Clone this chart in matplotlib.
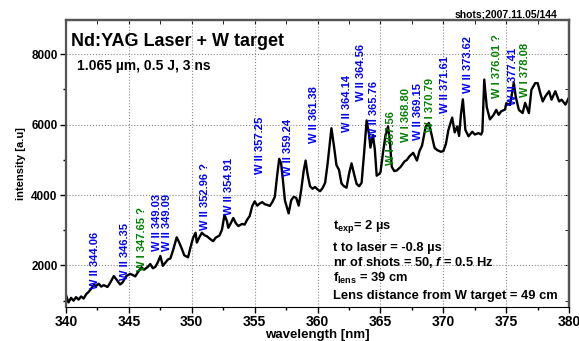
import matplotlib
matplotlib.use("Agg")
from matplotlib import pyplot as plt
from matplotlib.ticker import MultipleLocator

plt.rcParams['font.family'] = ['Liberation Sans', 'DejaVu Sans']
plt.rcParams['font.weight'] = 'bold'
plt.rcParams['mathtext.fontset'] = 'custom'
plt.rcParams['mathtext.rm'] = 'Liberation Sans:bold'
plt.rcParams['mathtext.it'] = 'Liberation Sans:bold:italic'
plt.rcParams['mathtext.default'] = 'rm'

# spectrum
wavelength = [340.0, 340.2, 340.4, 340.6, 340.8, 341.0, 341.2, 341.4, 341.6, 341.8,
              342.0, 342.2, 342.4, 342.6, 342.8, 343.0, 343.3, 343.5, 343.8, 344.1,
              344.3, 344.5, 344.8, 345.1, 345.3, 345.5, 345.7, 346.0, 346.2, 346.5,
              346.7, 346.9, 347.1, 347.3, 347.5, 347.7, 347.9, 348.1, 348.3, 348.5,
              348.8, 349.0, 349.2, 349.4, 349.7, 349.9, 350.1, 350.3, 350.4, 350.6,
              350.8, 351.0, 351.2, 351.5, 351.7, 351.9, 352.2, 352.4, 352.6, 352.8,
              352.9, 353.1, 353.3, 353.5, 353.7, 354.0, 354.2, 354.4, 354.6, 354.8,
              355.0, 355.2, 355.4, 355.6, 355.8, 356.0, 356.2, 356.4, 356.6, 356.8,
              356.95, 357.1, 357.25, 357.4, 357.6, 357.7, 357.9, 358.1, 358.3, 358.5,
              358.7, 358.9, 359.05, 359.2, 359.4, 359.6, 359.8, 360.0, 360.2, 360.4,
              360.6, 360.8, 361.1, 361.3, 361.5, 361.7, 361.9, 362.1, 362.3, 362.5,
              362.7, 362.9, 363.1, 363.3, 363.5, 363.7, 363.9, 364.1, 364.2, 364.4,
              364.55, 364.7, 364.9, 365.0, 365.2, 365.4, 365.6, 365.75, 365.9, 366.1,
              366.3, 366.6, 366.9, 367.1, 367.3, 367.6, 367.9, 368.1, 368.3, 368.6,
              368.85, 369.1, 369.3, 369.5, 369.8, 370.0, 370.2, 370.4, 370.7, 370.9,
              371.1, 371.25, 371.4, 371.55, 371.75, 372.0, 372.3, 372.5, 372.8, 373.0,
              373.1, 373.25, 373.45, 373.7, 374.0, 374.2, 374.4, 374.6, 374.9, 375.0,
              375.3, 375.6, 375.75, 376.0, 376.3, 376.5, 376.8, 377.0, 377.3, 377.5,
              377.7, 377.9, 378.1, 378.4, 378.6, 378.9, 379.2, 379.4, 379.7, 380.0]
intensity = [1150, 950, 1080, 1000, 1100, 1030, 1120, 1060, 1180, 1250,
             1340, 1450, 1420, 1480, 1400, 1440, 1390, 1500, 1700, 1560,
             1460, 1520, 1700, 1760, 1730, 1690, 1800, 1950, 1880, 1960,
             2040, 1920, 1960, 2090, 2270, 1990, 2080, 2170, 2200, 2420,
             2800, 2650, 2480, 2290, 2230, 2520, 2780, 2930, 2650, 2800,
             2930, 2860, 2830, 2740, 2690, 2790, 2850, 3020, 3440, 3250,
             3070, 3200, 3350, 3200, 3120, 3180, 3160, 3300, 3400, 3680,
             3820, 3700, 3760, 3800, 3740, 3720, 3690, 3800, 3950, 4600,
             5030, 4900, 4400, 3850, 3600, 3480, 3850, 3950, 3920, 3700,
             4150, 4700, 4980, 4600, 4250, 4180, 4230, 4160, 4110, 4200,
             4350, 4900, 5900, 5400, 4850, 4720, 4330, 4250, 4210, 4600,
             4900, 4600, 4320, 4250, 4350, 5200, 6120, 5700, 5350, 5700,
             5300, 4550, 4600, 4650, 5200, 5700, 5950, 5500, 4800, 4680,
             4700, 4800, 4950, 5000, 5100, 5200, 4980, 5250, 5400, 5950,
             6050, 5650, 5340, 5280, 5230, 5250, 5450, 5850, 6200, 5780,
             5950, 5680, 6300, 6720, 5850, 5670, 5800, 5720, 5760, 5720,
             5800, 7280, 6500, 6150, 6280, 6420, 6280, 6380, 6430, 6610,
             6560, 7190, 6800, 6420, 6330, 6620, 6330, 6990, 7180, 7180,
             6900, 6660, 6800, 6950, 6710, 6950, 6660, 6710, 6570, 6780]

# line identifications
line_labels = ['W II 344.06', 'W II 346.35', 'W I 347.65 ?', 'W II 349.03', 'W II 349.09',
               'W II 352.96 ?', 'W II 354.91', 'W II 357.25', 'W II 359.24', 'W II 361.38',
               'W II 364.14', 'W II 364.56', 'W II 365.76', 'W I 367.56', 'W I 368.80',
               'W II 369.15', 'W I 370.79', 'W II 371.61', 'W II 373.62', 'W I 376.01 ?',
               'W II 377.41', 'W I 378.08']
# where each label sits (bottom centre of rotated text)
label_x = [342.3, 344.7, 346.05, 347.25, 348.05, 351.05, 352.95, 355.45, 357.65, 359.75,
           362.3, 363.45, 364.5, 365.8, 367.05, 367.95, 368.95, 370.15, 371.95, 374.25,
           375.55, 376.5]
label_y = [1320, 1600, 1830, 2400, 2400, 3020, 3420, 4610, 4550, 5490,
           5800, 6680, 5630, 4860, 5520, 5570, 5800, 6340, 6900, 6760,
           6570, 6790]

fig = plt.figure(figsize=(5.79, 3.41), dpi=100)
ax = fig.add_axes([0.114, 0.0997, 0.869, 0.8413])
ax.plot(wavelength, intensity, color='black', linewidth=1.7)

for lbl, lx, ly in zip(line_labels, label_x, label_y):
    col = '#0000ff' if lbl.startswith('W II') else '#008000'
    ax.text(lx, ly, lbl, rotation=90, ha='center', va='bottom', color=col,
            fontsize=8, fontweight='bold')

ax.set_xlim(340, 380)
ax.set_ylim(820, 8970)
ax.xaxis.set_major_locator(MultipleLocator(5))
ax.xaxis.set_minor_locator(MultipleLocator(2.5))
ax.yaxis.set_major_locator(MultipleLocator(2000))
ax.yaxis.set_minor_locator(MultipleLocator(1000))
ax.tick_params(which='major', direction='out', length=4, width=1, pad=2)
ax.tick_params(which='minor', direction='out', length=2.5, width=1)
ax.tick_params(axis='x', labelsize=10)
ax.tick_params(axis='y', labelsize=8.5)
ax.grid(True, which='major', linestyle=':', color='#888888', linewidth=0.8)

top = ax.secondary_xaxis('top')
top.xaxis.set_major_locator(MultipleLocator(5))
top.xaxis.set_minor_locator(MultipleLocator(2.5))
top.tick_params(which='both', direction='in', labeltop=False, length=3)
right = ax.secondary_yaxis('right')
right.yaxis.set_major_locator(MultipleLocator(2000))
right.yaxis.set_minor_locator(MultipleLocator(1000))
right.tick_params(which='both', direction='in', labelright=False, length=3)

for s in ['left', 'right', 'top']:
    ax.spines[s].set_color('#555555')
    ax.spines[s].set_linewidth(1.6)
top.spines['top'].set_color('#555555')
top.spines['top'].set_linewidth(1.6)
right.spines['right'].set_color('#555555')
right.spines['right'].set_linewidth(1.6)

ax.set_xlabel('wavelength [nm]', fontsize=9.5, fontweight='bold', labelpad=0)
ax.set_ylabel('intensity [a.u]', fontsize=8, fontweight='bold', labelpad=4)

ax.text(0.01, 0.955, 'Nd:YAG Laser + W target', transform=ax.transAxes,
        fontsize=13, fontweight='bold', va='top')
ax.text(0.022, 0.865, '1.065 µm, 0.5 J, 3 ns', transform=ax.transAxes,
        fontsize=10, fontweight='bold', va='top')
fig.text(0.962, 0.95, 'shots;2007.11.05/144', fontsize=7.5, fontweight='bold', ha='right')

notes = [r'$\mathrm{t_{exp}}$= 2 µs',
         't to laser = -0.8 µs',
         r'nr of shots = 50, $\mathit{f}$ = 0.5 Hz',
         r'$\mathrm{f_{lens}}$ = 39 cm',
         'Lens distance from W target = 49 cm']
note_y = [3100, 2510, 2085, 1631, 1120]
for txt, ny in zip(notes, note_y):
    ax.text(361.2, ny, txt, fontsize=9.3, fontweight='bold', va='center')

fig.savefig('out.png', dpi=100)
